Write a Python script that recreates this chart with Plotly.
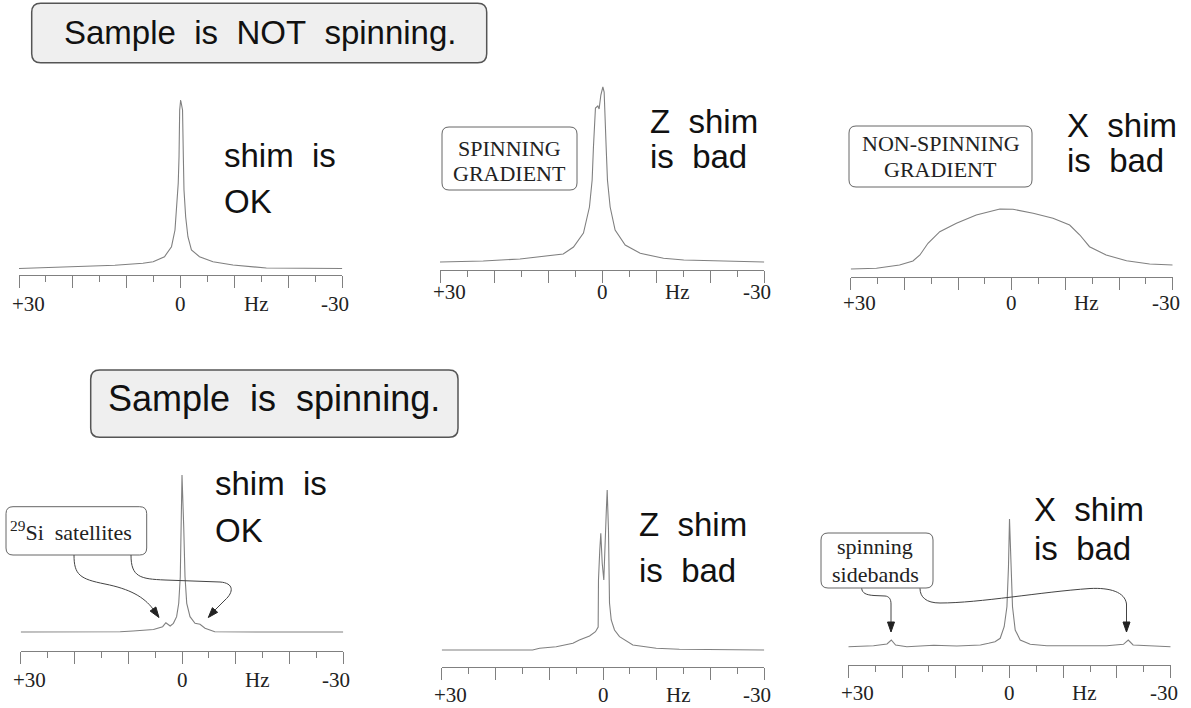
import plotly.graph_objects as go

W, H = 1191, 708

# ---------------- data (frequency in Hz, signal height in arbitrary units) ----------------
static_ok_hz = [30, 21.8, 12.2, 7.0, 5.1, 3.0, 1.7, 1.05, 0.7, 0.45, 0.3, 0.18, 0, -0.35, -0.5,
                -0.62, -0.93, -1.35, -2.0, -3.5, -6.0, -9.7, -15.9, -22, -30]
static_ok_int = [0, 1.8, 3.2, 5.2, 6.8, 11.8, 21.8, 38.5, 61.8, 85.2, 111.8, 158.5, 168.5, 158.5, 111.8,
                 78.5, 51.8, 31.8, 18.5, 11.8, 6.8, 3.5, 0.5, 0.5, 0]

static_z_hz = [30, 22, 15.2, 9.6, 7.2, 5.3, 3.46, 2.35, 1.85, 1.61, 1.43, 1.24, 0.8, 0.56, 0.24, -0.13,
               -0.37, -0.56, -0.74, -0.98, -1.48, -2.4, -4.26, -7.04, -11.35, -15.1, -24.3, -30]
static_z_int = [0, 1, 3, 7, 8, 15, 29, 55, 82, 115, 142, 154, 156, 153, 167, 175,
                170, 149, 115, 82, 55, 32, 17, 8.7, 3.7, 2, 1, 0]

static_x_hz = [30, 25.2, 20.9, 18.4, 17.1, 15.6, 13.4, 10.3, 6.6, 2.2, -0.24, -4.0, -7.7, -10.8,
               -12.7, -14.5, -17.6, -21.4, -25.7, -30]
static_x_int = [0, 0.7, 4, 8, 14, 25.7, 37.3, 45.7, 54, 60, 59.7, 55.7, 50.7, 44,
                34, 22.3, 14, 8.3, 5, 4]

spin_ok_hz = [30, 15, 11.5, 9.1, 7.8, 5.3, 3.6, 3.0, 2.2, 1.6, 1.0, 0.61, 0.32, 0.13, 0, -0.32,
              -0.56, -0.88, -1.49, -2.42, -3.35, -4.28, -6.1, -15, -30]
spin_ok_int = [0, 0, 0.3, 1, 1.5, 2.5, 5.3, 9.3, 6, 8.7, 15.3, 28.7, 55.3, 105.3, 157, 105.3,
               55.3, 28.7, 15.3, 8.7, 7.7, 3.7, 0.3, 0, 0]

spin_z_hz = [30, 13.1, 11.8, 8.7, 5.6, 4.4, 2.5, 1.4, 0.9, 0.84, 0.6, 0.41, 0.15, -0.15, -0.6, -0.78,
             -1.02, -1.08, -1.21, -1.53, -2.14, -3.07, -5.55, -9.9, -14.2, -30]
spin_z_int = [0, 0, 1.7, 3.3, 6.7, 10, 14, 18.3, 23, 70, 100, 116.7, 87, 70, 137, 160,
              120, 70, 47, 30, 20, 13.3, 5, 1.7, 0.7, 0]

spin_x_hz = [30, 25.3, 22.8, 22.0, 21.2, 19.1, 16.6, 14.1, 9.8, 5.4, 3.9, 2.7, 1.73, 0.99, 0.48, 0.19,
             0, -0.26, -0.56, -1.06, -1.99, -3.85, -6.95, -11.9, -18.1, -21.2, -22.1, -23.0, -26.2, -30]
spin_x_int = [0.3, 1.3, 3, 7, 2, 0.3, 1, 1.7, 1, 2, 3.7, 5.3, 8.7, 20.3, 40.3, 80.3,
              128, 80.3, 40.3, 17, 7, 2.7, 1.3, 1.3, 1.3, 2.7, 7, 2, 1, 0.3]

tick_label_vals = [30, 0, -14, -30]
tick_label_text = ["+30", "0", "Hz", "-30"]

# ---------------- layout geometry (pixels) ----------------
panels = [
    dict(hz=static_ok_hz, val=static_ok_int, L=19.0, R=342.3, A=275.3, B=268.5, lab=304,
         t1="shim\u00a0\u00a0is", t2="OK", tx=222, ty1=155, ty2=201.5),
    dict(hz=static_z_hz, val=static_z_int, L=440.0, R=764.3, A=270.0, B=262.0, lab=292,
         t1="Z\u00a0\u00a0shim", t2="is\u00a0\u00a0bad", tx=648, ty1=121, ty2=156),
    dict(hz=static_x_hz, val=static_x_int, L=850.7, R=1172.7, A=277.3, B=269.0, lab=303,
         t1="X\u00a0\u00a0shim", t2="is\u00a0\u00a0bad", tx=1065, ty1=125, ty2=160),
    dict(hz=spin_ok_hz, val=spin_ok_int, L=20.7, R=343.3, A=650.7, B=632.0, lab=680,
         t1="shim\u00a0\u00a0is", t2="OK", tx=213, ty1=483, ty2=530),
    dict(hz=spin_z_hz, val=spin_z_int, L=441.7, R=764.3, A=666.7, B=650.0, lab=695,
         t1="Z\u00a0\u00a0shim", t2="is\u00a0\u00a0bad", tx=637, ty1=524, ty2=570),
    dict(hz=spin_x_hz, val=spin_x_int, L=848.3, R=1170.7, A=665.0, B=647.0, lab=693,
         t1="X\u00a0\u00a0shim", t2="is\u00a0\u00a0bad", tx=1032, ty1=509, ty2=548),
]

AXC = "#808080"
LINEC = "#808080"
SANS = "Liberation Sans, Arial, sans-serif"
SERIF = "Liberation Serif, Times New Roman, serif"
SPAN = 200  # px height of each panel's y domain

fig = go.Figure()
layout = dict(width=W, height=H, margin=dict(l=0, r=0, t=0, b=0, pad=0),
              paper_bgcolor="white", plot_bgcolor="rgba(0,0,0,0)", showlegend=False)
annotations = []
shapes = []

for i, p in enumerate(panels, start=1):
    s = "" if i == 1 else str(i)
    off = p["A"] - p["B"]
    layout["xaxis" + s] = dict(
        domain=[p["L"] / W, p["R"] / W], range=[30, -30], anchor="y" + s,
        showline=True, linecolor=AXC, linewidth=1,
        ticks="outside", tickmode="linear", tick0=0, dtick=10, ticklen=12, tickwidth=1, tickcolor=AXC,
        minor=dict(ticks="outside", tick0=0, dtick=5, ticklen=6, tickwidth=1, tickcolor=AXC),
        showticklabels=False, showgrid=False, zeroline=False, fixedrange=True)
    layout["yaxis" + s] = dict(
        domain=[1 - p["A"] / H, 1 - (p["A"] - SPAN) / H], range=[-off, SPAN - off],
        anchor="x" + s, visible=False, fixedrange=True)
    fig.add_trace(go.Scatter(x=p["hz"], y=p["val"], mode="lines",
                             line=dict(color=LINEC, width=1.1),
                             xaxis="x" + s, yaxis="y" + s, hoverinfo="skip"))
    shifts = {30: 9, 0: 0, -14: 0, -30: -7}
    for v, t in zip(tick_label_vals, tick_label_text):
        annotations.append(dict(x=v, xref="x" + s, y=1 - p["lab"] / H, yref="paper", text=t,
                                showarrow=False, xanchor="center", yanchor="middle",
                                xshift=shifts[v], font=dict(family=SERIF, size=21, color="#222")))
    for txt, yy in ((p["t1"], p["ty1"]), (p["t2"], p["ty2"])):
        annotations.append(dict(x=p["tx"], y=yy, xref="x7", yref="y7", text=txt, showarrow=False,
                                xanchor="left", yanchor="middle",
                                font=dict(family=SANS, size=33, color="#111")))

# overlay pixel-coordinate axes for decorations
layout["xaxis7"] = dict(domain=[0, 1], range=[0, W], visible=False, fixedrange=True, anchor="y7")
layout["yaxis7"] = dict(domain=[0, 1], range=[H, 0], visible=False, fixedrange=True, anchor="x7")


def rrect(x0, y0, x1, y1, r):
    return (f"M {x0+r},{y0} L {x1-r},{y0} Q {x1},{y0} {x1},{y0+r} L {x1},{y1-r} "
            f"Q {x1},{y1} {x1-r},{y1} L {x0+r},{y1} Q {x0},{y1} {x0},{y1-r} "
            f"L {x0},{y0+r} Q {x0},{y0} {x0+r},{y0} Z")


def add_box(x0, y0, x1, y1, r, fill, lc, lw):
    shapes.append(dict(type="path", xref="x7", yref="y7", path=rrect(x0, y0, x1, y1, r),
                       fillcolor=fill, line=dict(color=lc, width=lw), layer="below"))


def add_curve(path):
    shapes.append(dict(type="path", xref="x7", yref="y7", path=path,
                       line=dict(color="#444", width=1), layer="above"))


def add_head(base, tip, half=3.5):
    bx, by = base
    tx, ty = tip
    dx, dy = tx - bx, ty - by
    n = (dx * dx + dy * dy) ** 0.5
    nx, ny = -dy / n * half, dx / n * half
    shapes.append(dict(type="path", xref="x7", yref="y7",
                       path=f"M {tx},{ty} L {bx+nx},{by+ny} L {bx-nx},{by-ny} Z",
                       fillcolor="#222", line=dict(color="#222", width=1), layer="above"))


# header boxes
add_box(31.7, 3.3, 486.7, 62.7, 9, "#efefef", "#555", 1.5)
annotations.append(dict(x=260.8, y=32.8, xref="x7", yref="y7",
                        text="Sample\u00a0\u00a0is\u00a0\u00a0NOT\u00a0\u00a0spinning.", showarrow=False,
                        xanchor="center", yanchor="middle", font=dict(family=SANS, size=33, color="#111")))
add_box(90.7, 370, 458, 437.3, 9, "#efefef", "#555", 1.5)
annotations.append(dict(x=274, y=398.5, xref="x7", yref="y7",
                        text="Sample\u00a0\u00a0is\u00a0\u00a0spinning.", showarrow=False,
                        xanchor="center", yanchor="middle", font=dict(family=SANS, size=36, color="#111")))

# small label boxes
small = [
    ((442, 127, 577, 190), [("SPINNING", 509.5, 148), ("GRADIENT", 509.5, 173)]),
    ((849, 126, 1032, 187), [("NON-SPINNING", 940.5, 143.7), ("GRADIENT", 940.5, 169.7)]),
    ((6, 506.7, 146.7, 555), [("<sup>29</sup>Si\u00a0\u00a0satellites", 71, 531)]),
    ((821, 533, 933, 588), [("spinning", 875, 546.3), ("sidebands", 875, 574.7)]),
]
for (x0, y0, x1, y1), lines in small:
    add_box(x0, y0, x1, y1, 7, "white", "#666", 1)
    for t, xx, yy in lines:
        annotations.append(dict(x=xx, y=yy, xref="x7", yref="y7", text=t, showarrow=False,
                                xanchor="center", yanchor="middle",
                                font=dict(family=SERIF, size=22, color="#222")))

# curved pointer arrows
add_curve("M 74,555 C 74,575 80,579 105,584 C 130,589 144,597 153,609")
add_head((153, 609), (159, 617.5))
add_curve("M 131,555 C 131,577 140,579 165,580 L 220,582 C 234,583 234,592 225,600 L 215,610")
add_head((215, 610), (208.3, 617.5))
add_curve("M 861.7,588.3 C 862,593 866,595 874,595.5 L 885,596 C 889,596.3 891,599 891,604 L 891,623")
add_head((891, 622), (891, 632))
add_curve("M 920,588.3 C 920,597 926,603 940,603 C 980,603 1040,592 1090,588.5 "
          "C 1110,587.5 1125,592 1126.5,604 L 1126.5,623")
add_head((1126.5, 622), (1126.5, 632))

layout["annotations"] = annotations
layout["shapes"] = shapes
fig.update_layout(**layout)
fig.write_html("out.html", config={"displayModeBar": False},
               post_script="document.body.style.margin='0';document.body.style.padding='0';")
